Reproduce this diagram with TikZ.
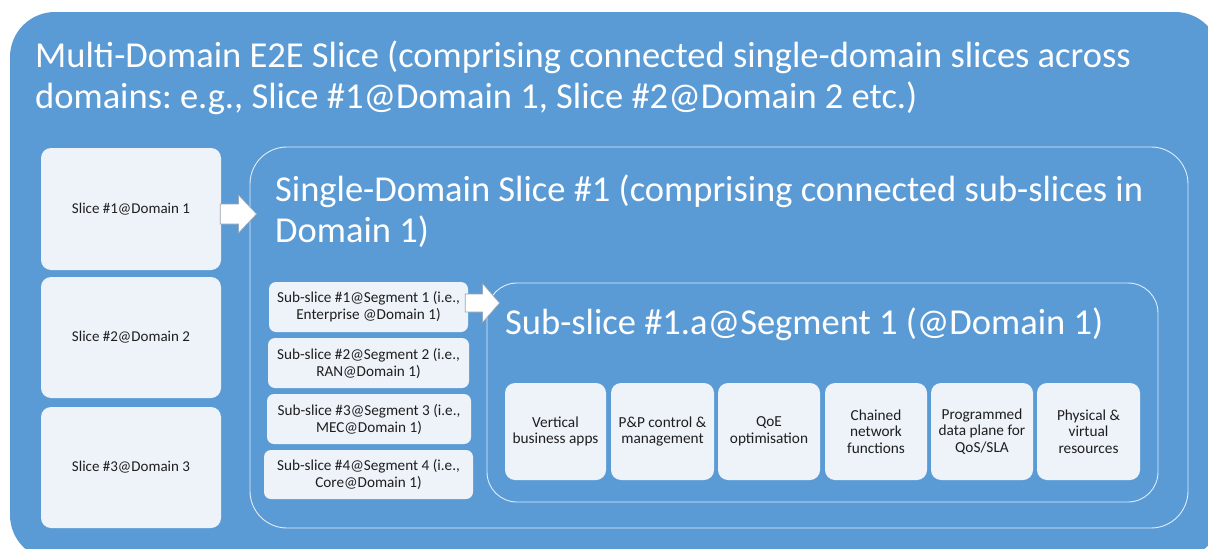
\documentclass[tikz,border=0pt]{standalone}
\usepackage{fontspec}
\setmainfont{Carlito}
\usetikzlibrary{calc}
\frenchspacing
\definecolor{slateblue}{HTML}{5B9BD5}
\definecolor{paleblue}{HTML}{EEF3FA}
\definecolor{rimline}{HTML}{E2ECF7}
\definecolor{arrowrim}{HTML}{9AA3AD}
\definecolor{inkdark}{HTML}{1E1E1E}

% block arrow from a tail coordinate to a tip coordinate
% #3 shaft half height, #4 head half height, #5 head length
\newcommand\blockarrow[5]{%
  \draw[arrowbody] let \p1=(#1), \p2=(#2) in
    ({\x1},{\y2+#3}) -- ({\x2-#5},{\y2+#3}) -- ({\x2-#5},{\y2+#4}) --
    ({\x2},{\y2}) -- ({\x2-#5},{\y2-#4}) -- ({\x2-#5},{\y2-#3}) --
    ({\x1},{\y2-#3}) -- cycle;}

\begin{document}
\begin{tikzpicture}[x=1pt,y=-1pt,
  lightbox/.style={fill=paleblue, draw=none, inner sep=2pt, align=center,
    text=inkdark, font=\fontsize{15}{17}\selectfont},
  domainbox/.style={lightbox, rounded corners=10pt},
  segbox/.style={lightbox, rounded corners=7pt, font=\fontsize{15.2}{17}\selectfont},
  funcbox/.style={lightbox, rounded corners=10pt, minimum height=97pt,
    font=\fontsize{15.3}{16.6}\selectfont},
  framebox/.style={draw=rimline, line width=0.9pt, fill=none, inner sep=0pt},
  heading/.style={text=white, align=left, inner sep=0pt, anchor=base west,
    font=\fontsize{36.5}{41}\selectfont},
  arrowbody/.style={fill=white, draw=arrowrim, line width=0.6pt, line join=miter}]

\useasboundingbox (0,0) rectangle (1208,549);
\clip (0,0) rectangle (1208,549);
\fill[white] (0,0) rectangle (1208,549);

% multi-domain slice
\node[fill=slateblue, rounded corners=45pt, inner sep=0pt,
  minimum width=1210pt, minimum height=548pt] (md) at (615,286) {};
% base anchor of a two-line heading sits on its second line
\node[heading] (mdtitle) at (35,108)
  {Multi-Domain E2E Slice (comprising connected single-domain slices across\\
   domains: e.g., Slice \#1@Domain 1, Slice \#2@Domain 2 etc.)};

% per-domain slices
\node[domainbox, minimum width=180pt, minimum height=122pt] (d1) at (131,209) {Slice \#1@Domain 1};
\node[domainbox, minimum width=180pt, minimum height=121pt] (d2) at (131,337.5) {Slice \#2@Domain 2};
\node[domainbox, minimum width=180pt, minimum height=121pt] (d3) at (131,467.5) {Slice \#3@Domain 3};

% single-domain slice
\node[framebox, rounded corners=37pt, minimum width=938pt, minimum height=381pt] (sd) at (719,337.5) {};
\node[heading] (sdtitle) at (275,242)
  {Single-Domain Slice \#1 (comprising connected sub-slices in\\ Domain 1)};

% sub-slices per segment
\node[segbox, minimum width=199pt, minimum height=50pt] (ss1) at (368.5,307) {Sub-slice \#1@Segment 1 (i.e.,\\ Enterprise @Domain 1)};
\node[segbox, minimum width=201pt, minimum height=50pt] (ss2) at (368.5,363) {Sub-slice \#2@Segment 2 (i.e.,\\ RAN@Domain 1)};
\node[segbox, minimum width=204pt, minimum height=50pt] (ss3) at (369,419) {Sub-slice \#3@Segment 3 (i.e.,\\ MEC@Domain 1)};
\node[segbox, minimum width=209pt, minimum height=49pt] (ss4) at (368.5,474.5) {Sub-slice \#4@Segment 4 (i.e.,\\ Core@Domain 1)};

% sub-slice detail
\node[framebox, rounded corners=30pt, minimum width=671pt, minimum height=219pt] (sub) at (822.5,392.5) {};
\node[heading] (subtitle) at (505,334) {Sub-slice \#1.a@Segment 1 (@Domain 1)};

\node[funcbox, minimum width=101pt] (f1) at (555.5,431.5) {Vertical\\ business apps};
\node[funcbox, minimum width=103pt] (f2) at (662.5,431.5) {P\&P control \&\\ management};
\node[funcbox, minimum width=102pt] (f3) at (769,431.5) {QoE\\ optimisation};
\node[funcbox, minimum width=102pt] (f4) at (876,431.5) {Chained\\ network\\ functions};
\node[funcbox, minimum width=102pt] (f5) at (982,431.5) {Programmed\\ data plane for\\ QoS/SLA};
\node[funcbox, minimum width=103pt] (f6) at (1088.5,431.5) {Physical \&\\ virtual\\ resources};

% expansion arrows
\coordinate (a1tail) at ($(d1.east)+(-1,5)$);
\coordinate (a1tip) at ($(sd.west |- d1.east)+(7,5)$);
\blockarrow{a1tail}{a1tip}{10pt}{19pt}{18pt}
\coordinate (a2tail) at ($(ss1.east)+(-3,-4)$);
\coordinate (a2tip) at ($(sub.west |- ss1.east)+(13,-4)$);
\blockarrow{a2tail}{a2tip}{9pt}{19.5pt}{17pt}
\end{tikzpicture}
\end{document}
